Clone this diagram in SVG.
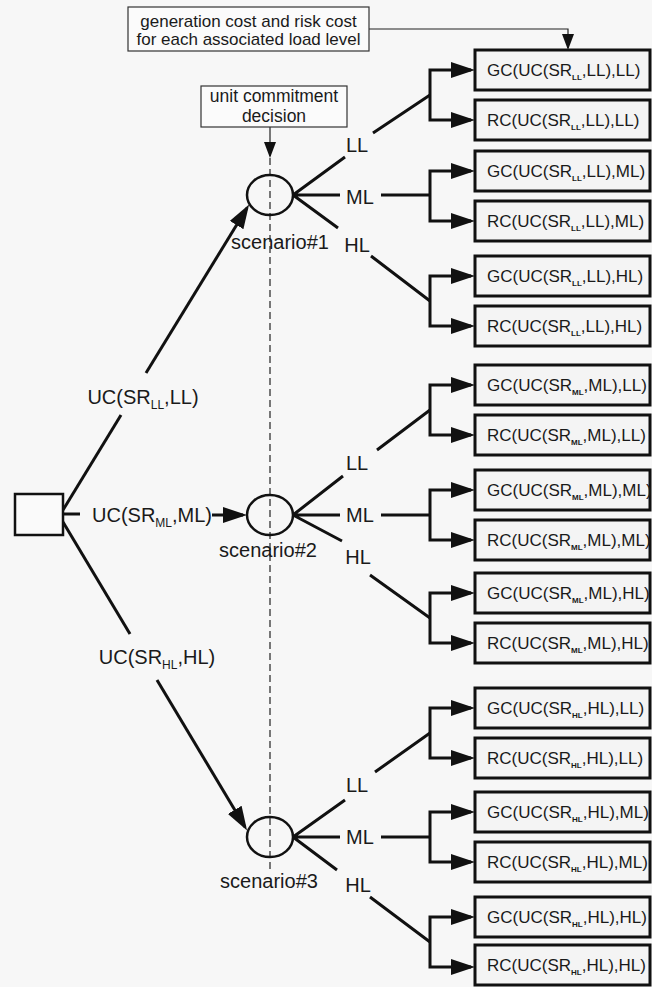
<svg xmlns="http://www.w3.org/2000/svg" width="652" height="987" viewBox="0 0 652 987">
<style>
text{font-family:"Liberation Sans",Arial,sans-serif;fill:#1a1a1a}
.lbl{font-size:20px}
.bt{font-size:17px}
.sub{font-size:8px;font-weight:bold}
.lsub{font-size:12px}
.box{fill:#f4f4f4;stroke:#111;stroke-width:3}
.note{fill:#fbfbfb;stroke:#333;stroke-width:1.2}
.c{fill:none;stroke:#111;stroke-width:3}
.thin{fill:none;stroke:#222;stroke-width:1.2}
.ar{marker-end:url(#ah)}
</style>
<defs>
<marker id="ah" markerUnits="userSpaceOnUse" viewBox="0 0 24 16" markerWidth="24" markerHeight="16" refX="20" refY="8" orient="auto"><path d="M0,0 L24,8 L0,16 z" fill="#111"/></marker>
<marker id="as" markerUnits="userSpaceOnUse" viewBox="0 0 16 12" markerWidth="16" markerHeight="12" refX="14" refY="6" orient="auto"><path d="M0,0 L16,6 L0,12 z" fill="#111"/></marker>
</defs>
<rect width="652" height="987" fill="#f7f7f7"/>

<g id="connectors">
<path class="thin" d="M369,29 H568 V48" marker-end="url(#as)"/>
<path class="thin" d="M270,127 V156" marker-end="url(#as)"/>
<path class="thin" d="M270,158 V872" stroke-dasharray="7 4"/>
<path class="c" d="M63,510 L121,415"/>
<path class="c ar" d="M146,373 L247,208"/>
<path class="c" d="M63,514 H80"/>
<path class="c ar" d="M212,515 H243"/>
<path class="c" d="M63,522 L130,634"/>
<path class="c ar" d="M157,680 L245,827"/>
<path class="c" d="M293,195 L345,157 M373,133 L430,95 M293,195 H340 M381,195 H430 M293,195 L338,228 M371,256 L430,301"/>
<path class="c" d="M293,515 L343,476 M377,450 L430,410 M293,515 H340 M381,515 H430 M293,515 L342,541 M370,575 L430,618"/>
<path class="c" d="M293,837 L345,800 M375,772 L430,733 M293,837 H340 M381,837 H430 M293,837 L337,870 M370,897 L430,942"/>
<path class="c ar" d="M430,95 V70 H471"/><path class="c ar" d="M430,95 V120 H471"/>
<path class="c ar" d="M430,196 V171 H471"/><path class="c ar" d="M430,196 V221 H471"/>
<path class="c ar" d="M430,301 V276 H471"/><path class="c ar" d="M430,301 V326 H471"/>
<path class="c ar" d="M430,410 V385 H471"/><path class="c ar" d="M430,410 V435 H471"/>
<path class="c ar" d="M430,515 V490 H471"/><path class="c ar" d="M430,515 V540 H471"/>
<path class="c ar" d="M430,618 V593 H471"/><path class="c ar" d="M430,618 V643 H471"/>
<path class="c ar" d="M430,733 V708 H471"/><path class="c ar" d="M430,733 V758 H471"/>
<path class="c ar" d="M430,837 V812 H471"/><path class="c ar" d="M430,837 V862 H471"/>
<path class="c ar" d="M430,942 V917 H471"/><path class="c ar" d="M430,942 V967 H471"/>
</g>

<g id="note-cost"><rect class="note" x="128" y="7" width="241" height="44"/>
<text x="248.5" y="27" font-size="17" text-anchor="middle">generation cost and risk cost</text>
<text x="248.5" y="45" font-size="17" text-anchor="middle">for each associated load level</text></g>
<g id="note-uc"><rect class="note" x="201" y="86" width="146" height="41"/>
<text x="274" y="102" font-size="17.5" text-anchor="middle">unit commitment</text>
<text x="274" y="122" font-size="17.5" text-anchor="middle">decision</text></g>

<g id="root"><rect x="15" y="494" width="48" height="41" fill="#fafafa" stroke="#111" stroke-width="2.5"/></g>

<g id="edge-labels" class="lbl">
<text x="143" y="404" text-anchor="middle">UC(SR<tspan class="lsub" dy="5">LL</tspan><tspan dy="-5">,LL)</tspan></text>
<text x="92" y="522">UC(SR<tspan class="lsub" dy="5">ML</tspan><tspan dy="-5">,ML)</tspan></text>
<text x="157" y="664" text-anchor="middle">UC(SR<tspan class="lsub" dy="5">HL</tspan><tspan dy="-5">,HL)</tspan></text>
<text x="357" y="152" text-anchor="middle">LL</text><text x="360" y="204" text-anchor="middle">ML</text><text x="357" y="252" text-anchor="middle">HL</text>
<text x="357" y="470" text-anchor="middle">LL</text><text x="360" y="522" text-anchor="middle">ML</text><text x="358" y="564" text-anchor="middle">HL</text>
<text x="357" y="792" text-anchor="middle">LL</text><text x="360" y="844" text-anchor="middle">ML</text><text x="358" y="892" text-anchor="middle">HL</text>
</g>

<g id="scenario1"><ellipse cx="270" cy="195" rx="23" ry="20" fill="none" stroke="#111" stroke-width="2.5"/><text class="lbl" x="280" y="249" text-anchor="middle">scenario#1</text></g>
<g id="scenario2"><ellipse cx="270" cy="515" rx="23" ry="20" fill="none" stroke="#111" stroke-width="2.5"/><text class="lbl" x="268" y="557" text-anchor="middle">scenario#2</text></g>
<g id="scenario3"><ellipse cx="270" cy="837" rx="23" ry="20" fill="none" stroke="#111" stroke-width="2.5"/><text class="lbl" x="269" y="888" text-anchor="middle">scenario#3</text></g>

<g id="b1"><rect class="box" x="475" y="50" width="175" height="40"/><text class="bt" x="487" y="76">GC(UC(SR<tspan class="sub" dy="4">LL</tspan><tspan dy="-4">,LL),LL)</tspan></text></g>
<g id="b2"><rect class="box" x="475" y="100" width="175" height="40"/><text class="bt" x="487" y="126">RC(UC(SR<tspan class="sub" dy="4">LL</tspan><tspan dy="-4">,LL),LL)</tspan></text></g>
<g id="b3"><rect class="box" x="475" y="151" width="175" height="40"/><text class="bt" x="487" y="177">GC(UC(SR<tspan class="sub" dy="4">LL</tspan><tspan dy="-4">,LL),ML)</tspan></text></g>
<g id="b4"><rect class="box" x="475" y="201" width="175" height="40"/><text class="bt" x="487" y="227">RC(UC(SR<tspan class="sub" dy="4">LL</tspan><tspan dy="-4">,LL),ML)</tspan></text></g>
<g id="b5"><rect class="box" x="475" y="256" width="175" height="40"/><text class="bt" x="487" y="282">GC(UC(SR<tspan class="sub" dy="4">LL</tspan><tspan dy="-4">,LL),HL)</tspan></text></g>
<g id="b6"><rect class="box" x="475" y="306" width="175" height="40"/><text class="bt" x="487" y="332">RC(UC(SR<tspan class="sub" dy="4">LL</tspan><tspan dy="-4">,LL),HL)</tspan></text></g>
<g id="b7"><rect class="box" x="475" y="365" width="175" height="40"/><text class="bt" x="487" y="391">GC(UC(SR<tspan class="sub" dy="4">ML</tspan><tspan dy="-4">,ML),LL)</tspan></text></g>
<g id="b8"><rect class="box" x="475" y="415" width="175" height="40"/><text class="bt" x="487" y="441">RC(UC(SR<tspan class="sub" dy="4">ML</tspan><tspan dy="-4">,ML),LL)</tspan></text></g>
<g id="b9"><rect class="box" x="475" y="470" width="175" height="40"/><text class="bt" x="487" y="496">GC(UC(SR<tspan class="sub" dy="4">ML</tspan><tspan dy="-4">,ML),ML)</tspan></text></g>
<g id="b10"><rect class="box" x="475" y="520" width="175" height="40"/><text class="bt" x="487" y="546">RC(UC(SR<tspan class="sub" dy="4">ML</tspan><tspan dy="-4">,ML),ML)</tspan></text></g>
<g id="b11"><rect class="box" x="475" y="573" width="175" height="40"/><text class="bt" x="487" y="599">GC(UC(SR<tspan class="sub" dy="4">ML</tspan><tspan dy="-4">,ML),HL)</tspan></text></g>
<g id="b12"><rect class="box" x="475" y="623" width="175" height="40"/><text class="bt" x="487" y="649">RC(UC(SR<tspan class="sub" dy="4">ML</tspan><tspan dy="-4">,ML),HL)</tspan></text></g>
<g id="b13"><rect class="box" x="475" y="688" width="175" height="40"/><text class="bt" x="487" y="714">GC(UC(SR<tspan class="sub" dy="4">HL</tspan><tspan dy="-4">,HL),LL)</tspan></text></g>
<g id="b14"><rect class="box" x="475" y="738" width="175" height="40"/><text class="bt" x="487" y="764">RC(UC(SR<tspan class="sub" dy="4">HL</tspan><tspan dy="-4">,HL),LL)</tspan></text></g>
<g id="b15"><rect class="box" x="475" y="792" width="175" height="40"/><text class="bt" x="487" y="818">GC(UC(SR<tspan class="sub" dy="4">HL</tspan><tspan dy="-4">,HL),ML)</tspan></text></g>
<g id="b16"><rect class="box" x="475" y="842" width="175" height="40"/><text class="bt" x="487" y="868">RC(UC(SR<tspan class="sub" dy="4">HL</tspan><tspan dy="-4">,HL),ML)</tspan></text></g>
<g id="b17"><rect class="box" x="475" y="897" width="175" height="40"/><text class="bt" x="487" y="923">GC(UC(SR<tspan class="sub" dy="4">HL</tspan><tspan dy="-4">,HL),HL)</tspan></text></g>
<g id="b18"><rect class="box" x="475" y="945" width="175" height="40"/><text class="bt" x="487" y="971">RC(UC(SR<tspan class="sub" dy="4">HL</tspan><tspan dy="-4">,HL),HL)</tspan></text></g>
</svg>
